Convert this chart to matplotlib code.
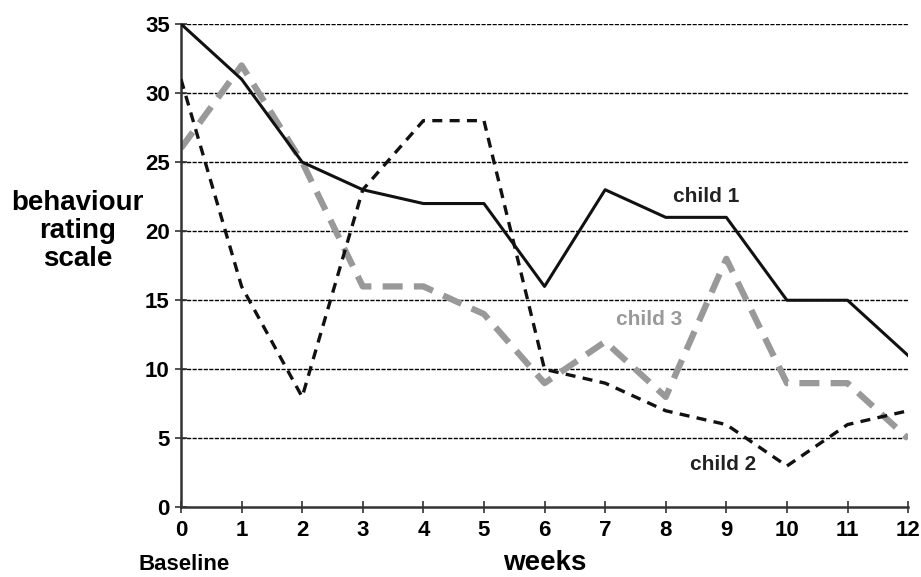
import matplotlib
matplotlib.use("Agg")
import matplotlib.pyplot as plt

plt.rcParams['font.family'] = ['Liberation Sans', 'DejaVu Sans']
plt.rcParams['font.weight'] = 'bold'

weeks = list(range(13))
child1 = [35, 31, 25, 23, 22, 22, 16, 23, 21, 21, 15, 15, 11]
child2 = [31, 16, 8, 23, 28, 28, 10, 9, 7, 6, 3, 6, 7]
child3 = [26, 32, 25, 16, 16, 14, 9, 12, 8, 18, 9, 9, 5]
yticks = [0, 5, 10, 15, 20, 25, 30, 35]

fig = plt.figure(figsize=(9.21, 5.77), dpi=100)
ax = fig.add_axes([0.1965, 0.1205, 0.7895, 0.838])

# grid lines
for y in yticks[1:]:
    ax.axhline(y, color='black', lw=1.0, linestyle=(0, (3, 1)), zorder=1)

ax.plot(weeks, child3, color='#999999', lw=4.5, linestyle=(0, (3.2, 1.8)), zorder=2)
ax.plot(weeks, child2, color='#111111', lw=2.4, linestyle=(0, (3, 2.2)), zorder=3)
ax.plot(weeks, child1, color='#111111', lw=2.2, zorder=4)

ax.text(8.12, 22.1, "child 1", fontsize=15, fontweight='bold', color='#222222')
ax.text(7.18, 13.2, "child 3", fontsize=15, fontweight='bold', color='#999999')
ax.text(8.4, 2.7, "child 2", fontsize=15, fontweight='bold', color='#222222')

ax.set_xlim(0, 12)
ax.set_ylim(0, 35)
ax.set_xticks(weeks)
ax.set_yticks(yticks)
ax.tick_params(axis='both', labelsize=16, direction='inout', length=8, width=1.2, color='#333333')
ax.tick_params(axis='x', pad=5)
ax.tick_params(axis='y', pad=4)
for lab in ax.get_xticklabels() + ax.get_yticklabels():
    lab.set_fontweight('bold')

for s in ['top', 'right']:
    ax.spines[s].set_visible(False)
for s in ['left', 'bottom']:
    ax.spines[s].set_color('#333333')
    ax.spines[s].set_linewidth(1.8)

fig.text(0.084, 0.6, "behaviour\nrating\nscale", fontsize=20, fontweight='bold',
         ha='center', va='center', linespacing=1.1)
fig.text(0.592, 0.024, "weeks", fontsize=20, fontweight='bold', ha='center', va='center')
fig.text(0.2, 0.021, "Baseline", fontsize=16, fontweight='bold', ha='center', va='center')

fig.savefig("out.png", dpi=100)
